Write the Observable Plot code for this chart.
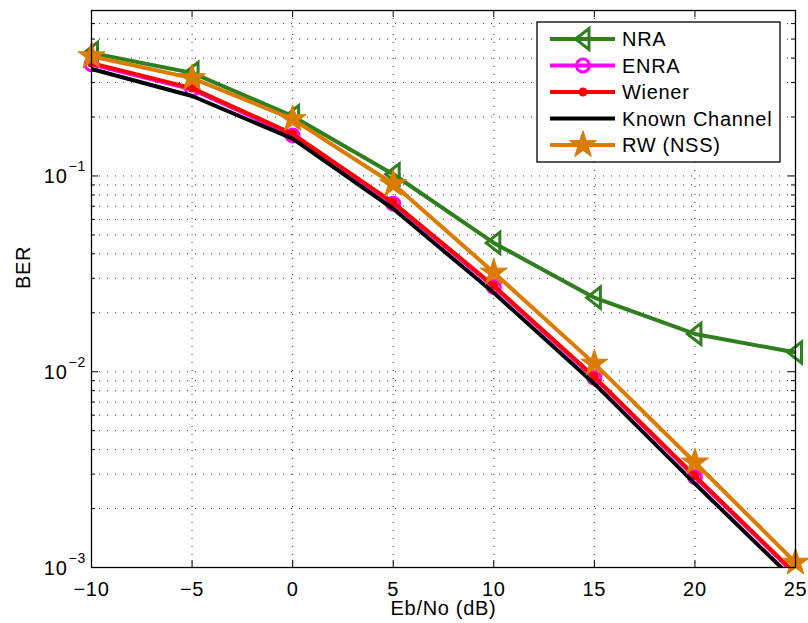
<!DOCTYPE html>
<html><head><meta charset="utf-8">
<script src="https://cdn.jsdelivr.net/npm/d3@7"></script>
<script src="https://cdn.jsdelivr.net/npm/@observablehq/plot@0.6"></script>
<style>
html,body{margin:0;padding:0;background:#fff;}
#chart{width:808px;height:623px;}
</style></head><body><div id="chart"></div>
<script>
const ebno = [-10, -5, 0, 5, 10, 15, 20, 25];
const berNRA = [0.425, 0.336, 0.202, 0.102, 0.0455, 0.0239, 0.0156, 0.01254];
const berENRA = [0.372, 0.277, 0.161, 0.0722, 0.0271, 0.0093, 0.00290, 0.00092];
const berWiener = [0.377, 0.281, 0.164, 0.0731, 0.0275, 0.00942, 0.00294, 0.00093];
const berKnown = [0.352, 0.256, 0.155, 0.068, 0.0253, 0.00869, 0.00268, 0.00085];
const berRW = [0.409, 0.316, 0.195, 0.091, 0.0321, 0.0110, 0.00344, 0.00106];
const seriesNames = ["NRA", "ENRA", "Wiener", "Known Channel", "RW (NSS)"];
const seriesColors = ["#2f7f1f", "#ff00ff", "#ff0000", "#000000", "#db7b00"];
const xTicks = [-10, -5, 0, 5, 10, 15, 20, 25];
const yMajorTicks = [0.001, 0.01, 0.1];
const yTickExponents = ["\u22123", "\u22122", "\u22121"];
const yMinorTicks = [0.002, 0.003, 0.004, 0.005, 0.006, 0.007, 0.008, 0.009,
  0.02, 0.03, 0.04, 0.05, 0.06, 0.07, 0.08, 0.09,
  0.2, 0.3, 0.4, 0.5, 0.6];
const yGridTicks = yMajorTicks.concat(yMinorTicks);

const W = 808, H = 623, mL = 91, mR = 13, mT = 10, mB = 56;
const plotW = W - mL - mR, plotH = H - mT - mB;
const yMin = 0.001, yMax = 0.7;
const FS = 20;

const rows = ys => ebno.map((x, i) => ({x, y: ys[i]}));
const visible = ys => rows(ys).filter(d => d.y >= yMin && d.y <= yMax);

const triLeft = {draw(ctx) { ctx.moveTo(-7.5, 0); ctx.lineTo(6, -10.5); ctx.lineTo(6, 10.5); ctx.closePath(); }};

const [cNRA, cENRA, cWien, cKnown, cRW] = seriesColors;
const LW = 4;
const STAR_R = 8.5;

const svg = Plot.plot({
  width: W, height: H,
  marginLeft: mL, marginRight: mR, marginTop: mT, marginBottom: mB,
  style: {fontFamily: "'Liberation Sans', Arial, sans-serif", fontSize: FS + "px", color: "black", background: "white"},
  x: {domain: [-10, 25]},
  y: {type: "log", domain: [yMin, yMax], axis: null},
  marks: [
    Plot.ruleX(xTicks, {x: d => d, stroke: "black", strokeOpacity: 0.8, strokeDasharray: "1,7"}),
    Plot.ruleY(yGridTicks, {y: d => d, stroke: "black", strokeOpacity: 0.8, strokeDasharray: "1,7"}),
    // inward ticks
    Plot.tickX(xTicks, {x: d => d, insetTop: plotH - 7, stroke: "black"}),
    Plot.tickX(xTicks, {x: d => d, insetBottom: plotH - 7, stroke: "black"}),
    Plot.tickY(yMajorTicks, {y: d => d, insetRight: plotW - 7, stroke: "black"}),
    Plot.tickY(yMajorTicks, {y: d => d, insetLeft: plotW - 7, stroke: "black"}),
    Plot.tickY(yMinorTicks, {y: d => d, insetRight: plotW - 4, stroke: "black"}),
    Plot.tickY(yMinorTicks, {y: d => d, insetLeft: plotW - 4, stroke: "black"}),
    // series
    Plot.line(rows(berNRA), {x: "x", y: "y", stroke: cNRA, strokeWidth: LW, clip: true}),
    Plot.dot(visible(berNRA), {x: "x", y: "y", symbol: triLeft, r: 8, stroke: cNRA, fill: "none", strokeWidth: 3}),
    Plot.line(rows(berENRA), {x: "x", y: "y", stroke: cENRA, strokeWidth: LW, clip: true}),
    Plot.dot(visible(berENRA), {x: "x", y: "y", r: 6.5, stroke: cENRA, fill: "none", strokeWidth: 3}),
    Plot.line(rows(berWiener), {x: "x", y: "y", stroke: cWien, strokeWidth: LW, clip: true}),
    Plot.dot(visible(berWiener), {x: "x", y: "y", r: 4.5, fill: cWien, stroke: "none"}),
    Plot.line(rows(berKnown), {x: "x", y: "y", stroke: cKnown, strokeWidth: LW, clip: true}),
    Plot.line(rows(berRW), {x: "x", y: "y", stroke: cRW, strokeWidth: LW, clip: true}),
    Plot.dot(visible(berRW), {x: "x", y: "y", symbol: "star", r: STAR_R, fill: cRW, stroke: cRW, strokeWidth: 1}),
    Plot.frame({stroke: "black", strokeWidth: 1.3}),
    // axes
    Plot.axisX(xTicks, {tickSize: 0, tickPadding: 14, label: null, fontSize: FS}),
    Plot.text(yMajorTicks, {y: d => d, text: () => "10", frameAnchor: "left", textAnchor: "end", dx: -24, dy: 1, fontSize: FS}),
    Plot.text(yMajorTicks, {y: d => d, text: (d, i) => yTickExponents[i], frameAnchor: "left", textAnchor: "start", dx: -23, dy: -9, fontSize: 14}),
    Plot.text(["Eb/No (dB)"], {text: d => d, frameAnchor: "bottom", lineAnchor: "middle", dy: 41, fontSize: FS}),
    Plot.text(["BER"], {text: d => d, frameAnchor: "left", lineAnchor: "middle", dx: -68, rotate: -90, fontSize: FS})
  ]
});

const sel = d3.select(svg).attr("letter-spacing", "0.7");
// legend
const lg = sel.append("g").attr("font-family", "'Liberation Sans', Arial, sans-serif").attr("font-size", FS);
lg.append("rect").attr("x", 537).attr("y", 22).attr("width", 243).attr("height", 140)
  .attr("fill", "white").attr("stroke", "black").attr("stroke-width", 1.3);
seriesNames.forEach((name, i) => {
  const y = 39 + i * 26.5, c = seriesColors[i];
  lg.append("line").attr("x1", 550).attr("x2", 615).attr("y1", y).attr("y2", y)
    .attr("stroke", c).attr("stroke-width", LW);
  const g = lg.append("g").attr("transform", `translate(583,${y})`);
  if (i === 0) g.append("path").attr("d", d3.symbol(triLeft)()).attr("fill", "none").attr("stroke", c).attr("stroke-width", 3);
  if (i === 1) g.append("circle").attr("r", 6.5).attr("fill", "none").attr("stroke", c).attr("stroke-width", 3);
  if (i === 2) g.append("circle").attr("r", 4.5).attr("fill", c);
  if (i === 4) g.append("path").attr("d", d3.symbol(d3.symbolStar, STAR_R * STAR_R * Math.PI)()).attr("fill", c).attr("stroke", c);
  lg.append("text").attr("x", 622).attr("y", y).attr("dy", "0.35em").attr("text-anchor", "start").attr("fill", "black").text(name);
});

document.getElementById("chart").appendChild(svg);
</script></body></html>
